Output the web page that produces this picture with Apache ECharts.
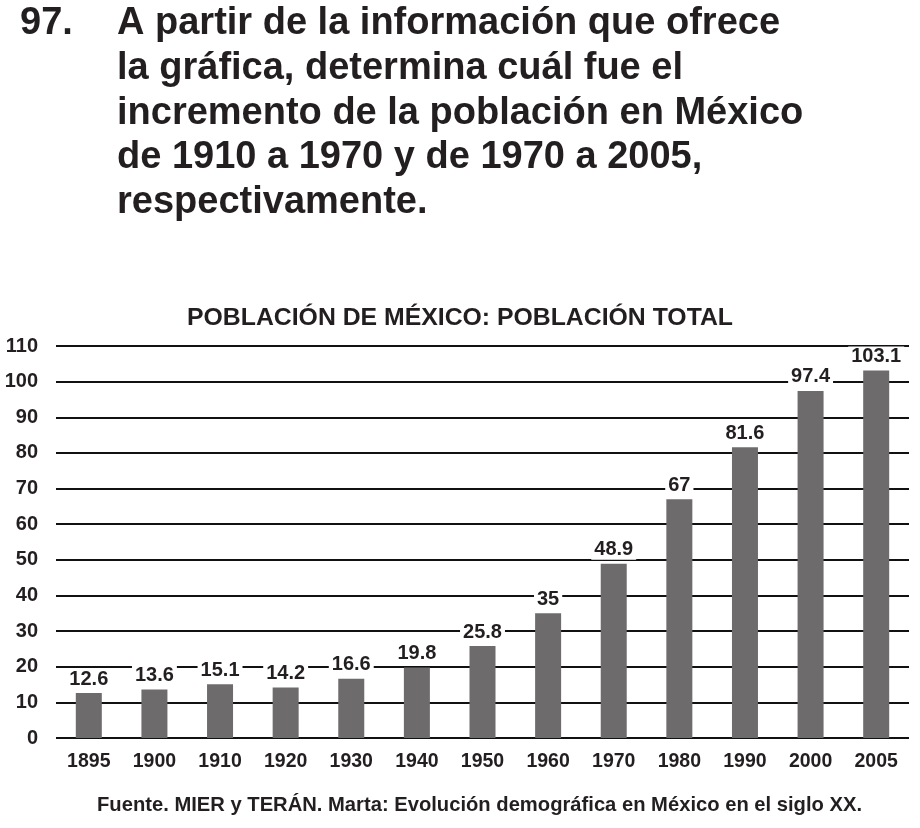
<!DOCTYPE html>
<html><head><meta charset="utf-8">
<script src="https://cdn.jsdelivr.net/npm/echarts@6/dist/echarts.min.js"></script>
<style>html,body{margin:0;padding:0;background:#fff;}#c{width:920px;height:828px;}</style>
</head><body><div id="c"></div>
<script>
const years = ['1895','1900','1910','1920','1930','1940','1950','1960','1970','1980','1990','2000','2005'];
const population = [12.6, 13.6, 15.1, 14.2, 16.6, 19.8, 25.8, 35, 48.9, 67, 81.6, 97.4, 103.1];
const questionNumber = '97.';
const questionLines = [
  'A partir de la información que ofrece',
  'la gráfica, determina cuál fue el',
  'incremento de la población en México',
  'de 1910 a 1970 y de 1970 a 2005,',
  'respectivamente.'
];
const chartTitle = 'POBLACIÓN DE MÉXICO: POBLACIÓN TOTAL';
const sourceNote = 'Fuente. MIER y TERÁN. Marta: Evolución demográfica en México en el siglo XX.';

const FONT = 'Liberation Sans, Arial, Helvetica, sans-serif';
const TXT = '#231f20';
const chart = echarts.init(document.getElementById('c'));
const graphics = [{
  type: 'text', left: 20, top: 5,
  style: { text: questionNumber, font: 'bold 38px ' + FONT, fill: TXT }
}];
questionLines.forEach((l, i) => graphics.push({
  type: 'text', left: 117, top: 5 + i * 44.6,
  style: { text: l, font: 'bold 38px ' + FONT, fill: TXT }
}));
graphics.push({
  type: 'text', left: 97, top: 795,
  style: { text: sourceNote, font: 'bold 20.2px ' + FONT, fill: TXT }
});
chart.setOption({
  animation: false,
  backgroundColor: '#fff',
  title: {
    text: chartTitle, left: 'center', top: 301,
    textStyle: { fontFamily: FONT, fontWeight: 'bold', fontSize: 24.8, color: TXT }
  },
  graphic: graphics,
  grid: { left: 56, right: 11, top: 346, bottom: 90 },
  xAxis: {
    type: 'category', data: years,
    axisLine: { show: false }, axisTick: { show: false },
    axisLabel: { fontFamily: FONT, fontWeight: 'bold', fontSize: 19.5, color: TXT, margin: 14 }
  },
  yAxis: {
    type: 'value', min: 0, max: 110, interval: 10,
    axisLine: { show: false }, axisTick: { show: false },
    splitLine: { lineStyle: { color: '#111', width: 2 } },
    axisLabel: { fontFamily: FONT, fontWeight: 'bold', fontSize: 20, color: TXT, margin: 18 }
  },
  series: [{
    type: 'bar', data: population, barWidth: 26,
    itemStyle: { color: '#6e6b6c' },
    label: {
      show: true, position: 'top', distance: 4,
      fontFamily: FONT, fontWeight: 'bold', fontSize: 20, color: TXT,
      backgroundColor: '#fff', padding: [0, 3, 0, 3]
    }
  }]
});
</script></body></html>
